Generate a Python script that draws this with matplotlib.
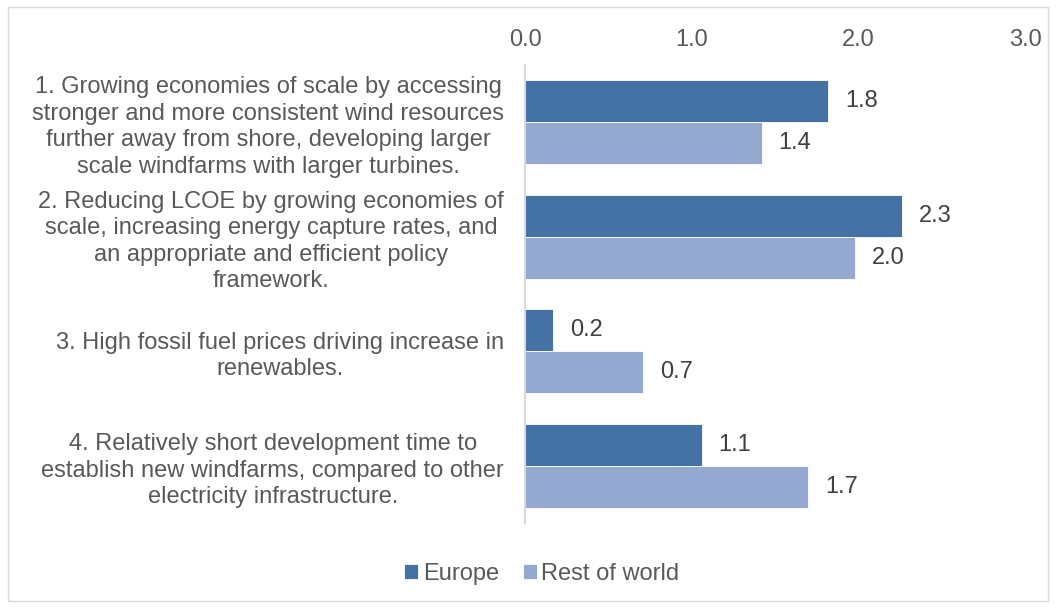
import numpy as np
import matplotlib.pyplot as plt

plt.rcParams['font.family'] = ['Liberation Sans', 'DejaVu Sans']

# Survey drivers and average scores
categories = [
    "1. Growing economies of scale by accessing\nstronger and more consistent wind resources\nfurther away from shore, developing larger\nscale windfarms with larger turbines.",
    "2. Reducing LCOE by growing economies of\nscale, increasing energy capture rates, and\nan appropriate and efficient policy\nframework.",
    "3. High fossil fuel prices driving increase in\nrenewables.",
    "4. Relatively short development time to\nestablish new windfarms, compared to other\nelectricity infrastructure.",
]
europe = [1.82, 2.26, 0.17, 1.06]
rest_of_world = [1.42, 1.98, 0.71, 1.70]
series_names = ["Europe", "Rest of world"]
xticks = [0.0, 1.0, 2.0, 3.0]

dark_blue = "#4472a5"
light_blue = "#95a9d0"
label_gray = "#595959"
fs = 17

fig = plt.figure(figsize=(10.56, 6.07), dpi=100)
ax = fig.add_axes([0.4972, 0.1384, 0.4735, 0.7545])

y = np.arange(len(categories))
h = 0.365
b1 = ax.barh(y - h / 2, europe, height=h, color=dark_blue, edgecolor="white", linewidth=0.6, label=series_names[0])
b2 = ax.barh(y + h / 2, rest_of_world, height=h, color=light_blue, edgecolor="white", linewidth=0.6, label=series_names[1])

# value labels just past the end of each bar
for bars, vals in [(b1, europe), (b2, rest_of_world)]:
    for bar, v in zip(bars, vals):
        ax.annotate(f"{v:.1f}", (v, bar.get_y() + bar.get_height() / 2),
                    xytext=(17, 0), textcoords="offset pixels",
                    va="center", ha="left", fontsize=fs, color="#404040")

ax.set_ylim(len(categories) - 0.5, -0.5)
ax.set_xlim(0, 3.0)
ax.set_xticks(xticks)
ax.set_xticklabels([f"{t:.1f}" for t in xticks])
ax.xaxis.tick_top()
ax.tick_params(axis="x", length=0, pad=10, labelsize=fs, labelcolor=label_gray)

ax.set_yticks(y)
ax.set_yticklabels(categories, multialignment="center", linespacing=1.27)
ax.tick_params(axis="y", length=0, pad=15, labelsize=fs, labelcolor=label_gray)

for side in ["top", "right", "bottom"]:
    ax.spines[side].set_visible(False)
ax.spines["left"].set_color("#d9d9d9")
ax.spines["left"].set_linewidth(1.5)

leg = fig.legend(loc="center", bbox_to_anchor=(0.513, 0.054), ncol=2, frameon=False,
                 fontsize=fs, handlelength=0.6, handleheight=0.6, handletextpad=0.2,
                 columnspacing=1.0)
for t in leg.get_texts():
    t.set_color(label_gray)

# thin frame round the whole chart
fig.patches.append(plt.Rectangle((0.008, 0.01), 0.984, 0.978, transform=fig.transFigure,
                                 fill=False, edgecolor="#d9d9d9", linewidth=1))

fig.savefig("out.png", dpi=100)
